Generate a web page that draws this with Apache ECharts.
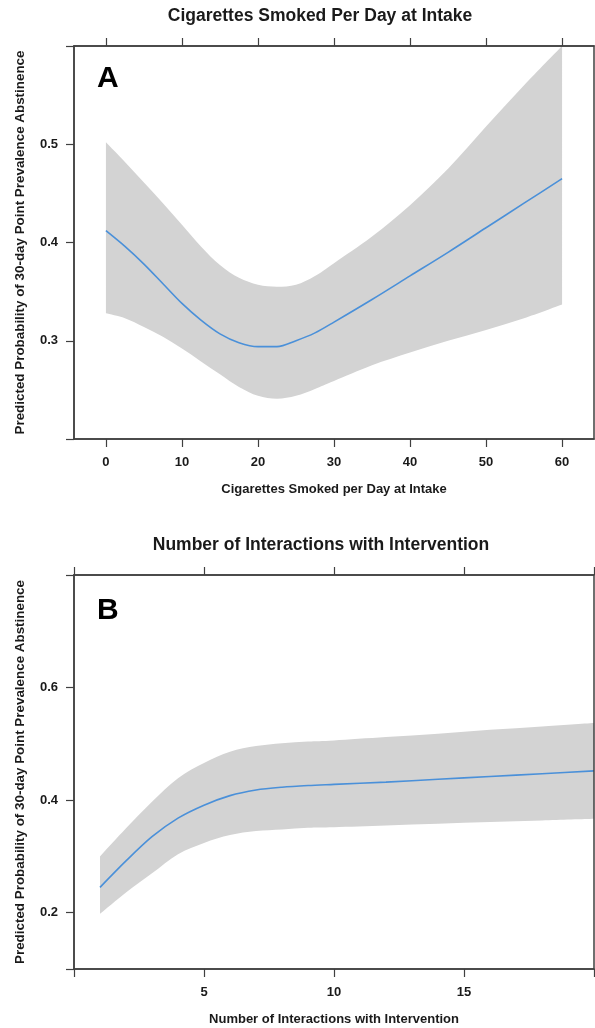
<!DOCTYPE html>
<html>
<head>
<meta charset="utf-8">
<script src="https://cdn.jsdelivr.net/npm/echarts@6/dist/echarts.min.js"></script>
<style>
html,body{margin:0;padding:0;background:#fff;}
#chart{width:595px;height:1028px;}
</style>
</head>
<body>
<div id="chart"></div>
<script>
// ---- Panel A: Cigarettes smoked per day at intake ----
const cigX     = [0, 2.5, 5, 7.5, 10, 12.5, 15, 17.5, 20, 22.5, 25, 27.5, 30, 35, 40, 45, 50, 55, 60];
const cigFit   = [0.412, 0.396, 0.378, 0.358, 0.338, 0.321, 0.307, 0.298, 0.294, 0.294, 0.300, 0.308, 0.319, 0.342, 0.366, 0.390, 0.415, 0.440, 0.465];
const cigUpper = [0.502, 0.482, 0.461, 0.440, 0.418, 0.396, 0.377, 0.364, 0.357, 0.355, 0.357, 0.366, 0.379, 0.406, 0.438, 0.475, 0.518, 0.560, 0.600];
const cigLower = [0.328, 0.323, 0.314, 0.304, 0.292, 0.279, 0.266, 0.253, 0.244, 0.241, 0.244, 0.251, 0.259, 0.275, 0.288, 0.300, 0.311, 0.323, 0.337];
const cigXTicks = [0, 10, 20, 30, 40, 50, 60];
const cigYTicks = [0.2, 0.3, 0.4, 0.5, 0.6];
const cigYLabels = [0.3, 0.4, 0.5];

// ---- Panel B: Number of interactions with intervention ----
const intX     = [1, 2, 3, 4, 5, 6, 7, 8, 9, 10, 12, 14, 16, 18, 20];
const intFit   = [0.245, 0.292, 0.335, 0.368, 0.391, 0.408, 0.418, 0.423, 0.426, 0.428, 0.432, 0.437, 0.442, 0.447, 0.452];
const intUpper = [0.300, 0.350, 0.397, 0.439, 0.466, 0.486, 0.496, 0.501, 0.504, 0.506, 0.512, 0.518, 0.525, 0.531, 0.537];
const intLower = [0.198, 0.236, 0.270, 0.304, 0.324, 0.338, 0.345, 0.348, 0.351, 0.352, 0.355, 0.358, 0.361, 0.364, 0.367];
const intXTicks = [0, 5, 10, 15, 20];
const intXLabels = [5, 10, 15];
const intYTicks = [0.1, 0.2, 0.4, 0.6, 0.8];
const intYLabels = [0.2, 0.4, 0.6];

const titleA = 'Cigarettes Smoked Per Day at Intake';
const xNameA = 'Cigarettes Smoked per Day at Intake';
const titleB = 'Number of Interactions with Intervention';
const xNameB = 'Number of Interactions with Intervention';
const yName  = 'Predicted Probability of 30-day Point Prevalence Abstinence';

const FONT = '"Liberation Sans", Arial, sans-serif';
const AXC = '#404040';
const TXT = '#1a1a1a';
const BAND = '#d3d3d3';
const LINE = '#4a90d9';

function pairs(xs, ys){ return xs.map((x,i)=>[x, ys[i]]); }

function xAxisBottom(grid, min, max, ticks, labels, name){
  return {
    type:'value', gridIndex:grid, position:'bottom', min:min, max:max, z:5,
    name:name, nameLocation:'middle', nameGap:44,
    nameTextStyle:{fontFamily:FONT, fontWeight:'bold', fontSize:13, color:TXT},
    axisLine:{show:true, onZero:false, lineStyle:{color:AXC, width:1.5}},
    axisTick:{show:true, inside:false, length:8, customValues:ticks, lineStyle:{color:AXC, width:1.2}},
    axisLabel:{show:true, margin:17, customValues:labels, fontFamily:FONT, fontWeight:'bold', fontSize:13, color:TXT,
      formatter:v=>String(v)},
    splitLine:{show:false}
  };
}
function xAxisTop(grid, min, max, ticks){
  return {
    type:'value', gridIndex:grid, position:'top', min:min, max:max, z:5,
    axisLine:{show:true, onZero:false, lineStyle:{color:AXC, width:1.5}},
    axisTick:{show:true, inside:false, length:8, customValues:ticks, lineStyle:{color:AXC, width:1.2}},
    axisLabel:{show:false},
    splitLine:{show:false}
  };
}
function yAxisLeft(grid, min, max, ticks, labels){
  return {
    type:'value', gridIndex:grid, position:'left', min:min, max:max, z:5,
    name:yName, nameLocation:'middle', nameGap:47, nameRotate:90,
    nameTextStyle:{fontFamily:FONT, fontWeight:'bold', fontSize:13.4, color:TXT},
    axisLine:{show:true, onZero:false, lineStyle:{color:AXC, width:1.5}},
    axisTick:{show:true, inside:false, length:8, customValues:ticks, lineStyle:{color:AXC, width:1.2}},
    axisLabel:{show:true, margin:16, customValues:labels, fontFamily:FONT, fontWeight:'bold', fontSize:13, color:TXT,
      formatter:v=>Number(v).toFixed(1)},
    splitLine:{show:false}
  };
}

// smooth (Catmull-Rom) path through pixel points, continuing an existing path
function curveThrough(pts, startCmd){
  let d = startCmd + ' ' + pts[0][0] + ' ' + pts[0][1];
  for (let i = 0; i < pts.length - 1; i++) {
    const p0 = pts[Math.max(i - 1, 0)], p1 = pts[i], p2 = pts[i + 1], p3 = pts[Math.min(i + 2, pts.length - 1)];
    const c1x = p1[0] + (p2[0] - p0[0]) / 6, c1y = p1[1] + (p2[1] - p0[1]) / 6;
    const c2x = p2[0] - (p3[0] - p1[0]) / 6, c2y = p2[1] - (p3[1] - p1[1]) / 6;
    d += ' C ' + c1x + ' ' + c1y + ' ' + c2x + ' ' + c2y + ' ' + p2[0] + ' ' + p2[1];
  }
  return d;
}

// Confidence band: filled region between upper and lower curves, positioned by the axes
function bandSeries(xi, yi, xs, lower, upper){
  return {
    type:'custom', xAxisIndex:xi, yAxisIndex:yi, clip:true, silent:true, z:1,
    data:[[xs[0], lower[0]]],
    renderItem:function(params, api){
      const up = xs.map((x, i) => api.coord([x, upper[i]]));
      const lo = xs.map((x, i) => api.coord([x, lower[i]])).reverse();
      const d = curveThrough(up, 'M') + ' ' + curveThrough(lo, 'L') + ' Z';
      return {type:'path', shape:{pathData:d}, style:{fill:BAND}};
    }
  };
}

const chart = echarts.init(document.getElementById('chart'), null, {renderer:'canvas'});
chart.setOption({
  backgroundColor:'#fff',
  animation:false,
  grid:[
    {left:74, top:46, width:520, height:393, show:true, borderColor:AXC, borderWidth:1.5, backgroundColor:'transparent', containLabel:false, z:5},
    {left:74, top:575, width:520, height:394, show:true, borderColor:AXC, borderWidth:1.5, backgroundColor:'transparent', containLabel:false, z:5}
  ],
  xAxis:[
    xAxisBottom(0, -4.2, 64.2, cigXTicks, cigXTicks, xNameA),
    xAxisTop(0, -4.2, 64.2, cigXTicks),
    xAxisBottom(1, 0, 20, intXTicks, intXLabels, xNameB),
    xAxisTop(1, 0, 20, intXTicks)
  ],
  yAxis:[
    yAxisLeft(0, 0.2, 0.6, cigYTicks, cigYLabels),
    yAxisLeft(1, 0.1, 0.8, intYTicks, intYLabels)
  ],
  graphic:[
    {type:'text', x:320, y:16, z:10, style:{text:titleA, font:'bold 17.5px '+FONT, fill:TXT, textAlign:'center', textVerticalAlign:'middle'}},
    {type:'text', x:321, y:545, z:10, style:{text:titleB, font:'bold 17.5px '+FONT, fill:TXT, textAlign:'center', textVerticalAlign:'middle'}},
    {type:'text', x:97, y:79, z:10, style:{text:'A', font:'bold 30px '+FONT, fill:'#000', textAlign:'left', textVerticalAlign:'middle'}},
    {type:'text', x:97, y:611, z:10, style:{text:'B', font:'bold 30px '+FONT, fill:'#000', textAlign:'left', textVerticalAlign:'middle'}}
  ],
  series:[
    bandSeries(0, 0, cigX, cigLower, cigUpper),
    {type:'line', xAxisIndex:0, yAxisIndex:0, data:pairs(cigX, cigFit), symbol:'none', smooth:0.3,
     lineStyle:{color:LINE, width:1.6}, z:3},
    bandSeries(2, 1, intX, intLower, intUpper),
    {type:'line', xAxisIndex:2, yAxisIndex:1, data:pairs(intX, intFit), symbol:'none', smooth:0.3,
     lineStyle:{color:LINE, width:1.6}, z:3}
  ]
});
</script>
</body>
</html>
